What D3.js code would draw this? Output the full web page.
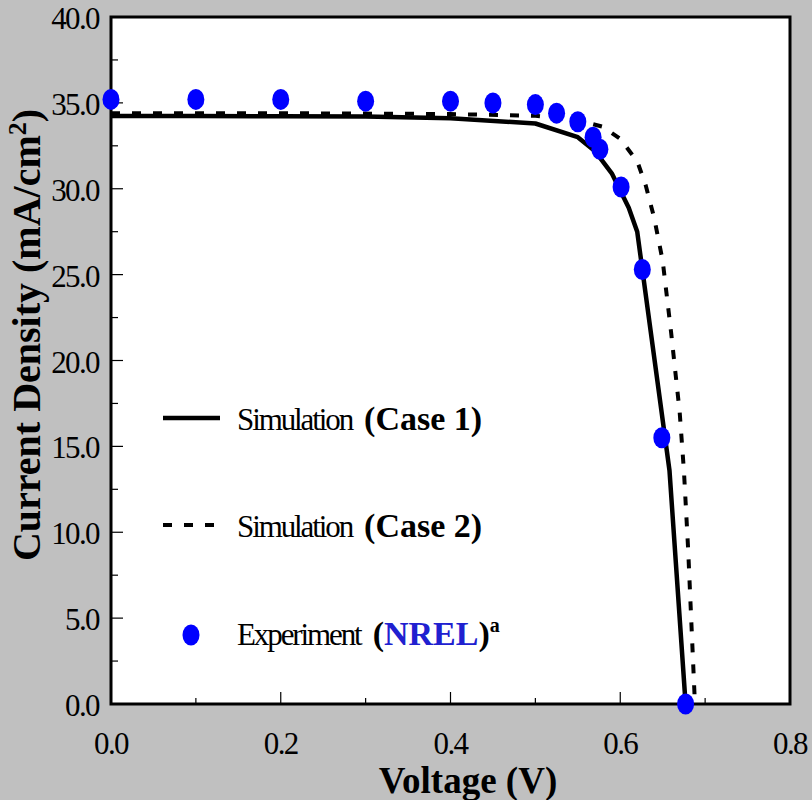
<!DOCTYPE html>
<html>
<head>
<meta charset="utf-8">
<script src="https://cdn.jsdelivr.net/npm/d3@7"></script>
<style>
  html, body { margin: 0; padding: 0; background: #c0c0c0; }
  svg { display: block; font-family: "Liberation Serif", "Times New Roman", serif; }
  .tick-label { font-size: 31px; letter-spacing: -1.6px; fill: #000; }
  .axis-title { font-size: 37px; font-weight: bold; fill: #000; }
  .legend-text { font-size: 31px; fill: #000; }
</style>
</head>
<body>
<svg id="chart" width="812" height="800"></svg>
<script>
// Simulated J-V curves (voltage in V, current density in mA/cm2)
const case1V = [0, 0.1, 0.2, 0.3, 0.4, 0.5, 0.55, 0.57, 0.59, 0.61, 0.62, 0.658, 0.677];
const case1J = [34.24, 34.24, 34.22, 34.2, 34.1, 33.8, 33.0, 32.2, 30.9, 28.9, 27.5, 13.6, 0];

const case2V = [0, 0.2, 0.4, 0.5, 0.55, 0.58, 0.6, 0.62, 0.63, 0.64, 0.65, 0.66, 0.67, 0.675, 0.68, 0.688];
const case2J = [34.4, 34.4, 34.35, 34.25, 34.0, 33.6, 32.9, 31.6, 30.2, 28.3, 25.8, 21.6, 17.0, 13.6, 9.0, 0];

// Experiment (NREL)
const expV = [0, 0.1, 0.2, 0.3, 0.4, 0.45, 0.5, 0.525, 0.55, 0.568, 0.576, 0.601, 0.626, 0.649, 0.677];
const expJ = [35.2, 35.2, 35.2, 35.1, 35.1, 35.0, 34.9, 34.4, 33.9, 33.0, 32.3, 30.1, 25.3, 15.5, 0];

const xTicks = [0, 0.1, 0.2, 0.3, 0.4, 0.5, 0.6, 0.7, 0.8];
const xLabels = [0, 0.2, 0.4, 0.6, 0.8];
const yTicks = d3.range(0, 40.01, 2.5);
const yLabels = [0, 5, 10, 15, 20, 25, 30, 35, 40];

const svg = d3.select("#chart");
const plot = { left: 111, right: 790, top: 17, bottom: 704 };

const x = d3.scaleLinear().domain([0, 0.8]).range([plot.left, plot.right]);
const y = d3.scaleLinear().domain([0, 40]).range([plot.bottom, plot.top]);

const frameLayer = svg.append("g").attr("class", "frame");
const curveLayer = svg.append("g").attr("class", "curves");
const pointLayer = svg.append("g").attr("class", "points");
const legendLayer = svg.append("g").attr("class", "legend");

frameLayer.append("rect")
  .attr("x", plot.left)
  .attr("y", plot.top)
  .attr("width", plot.right - plot.left)
  .attr("height", plot.bottom - plot.top)
  .attr("fill", "#fff")
  .attr("stroke", "#000")
  .attr("stroke-width", 3);

// inward ticks, longer on labelled values
const isMajorX = (d) => xLabels.some((v) => Math.abs(v - d) < 1e-9);
const isMajorY = (d) => yLabels.some((v) => Math.abs(v - d) < 1e-9);

frameLayer.selectAll("line.xtick")
  .data(xTicks.filter((d) => d > 0 && d < 0.8))
  .join("line")
  .attr("class", "xtick")
  .attr("x1", (d) => x(d))
  .attr("x2", (d) => x(d))
  .attr("y1", plot.bottom)
  .attr("y2", (d) => plot.bottom - (isMajorX(d) ? 12 : 6))
  .attr("stroke", "#000")
  .attr("stroke-width", 1.2);

frameLayer.selectAll("line.ytick")
  .data(yTicks.filter((d) => d > 0 && d < 40))
  .join("line")
  .attr("class", "ytick")
  .attr("x1", plot.left)
  .attr("x2", (d) => plot.left + (isMajorY(d) ? 12 : 7))
  .attr("y1", (d) => y(d))
  .attr("y2", (d) => y(d))
  .attr("stroke", "#000")
  .attr("stroke-width", 1.2);

const fmt = d3.format(".1f");

svg.selectAll("text.xlabel")
  .data(xLabels)
  .join("text")
  .attr("class", "tick-label xlabel")
  .attr("x", (d) => x(d))
  .attr("y", 754)
  .attr("text-anchor", "middle")
  .text(fmt);

svg.selectAll("text.ylabel")
  .data(yLabels)
  .join("text")
  .attr("class", "tick-label ylabel")
  .attr("x", plot.left - 12)
  .attr("y", (d) => y(d) + 12)
  .attr("text-anchor", "end")
  .text(fmt);

svg.append("text")
  .attr("class", "axis-title")
  .attr("x", 468)
  .attr("y", 793)
  .attr("text-anchor", "middle")
  .text("Voltage (V)");

const yTitle = svg.append("text")
  .attr("class", "axis-title")
  .style("font-size", "40px")
  .attr("transform", "translate(40,335) rotate(-90)")
  .attr("text-anchor", "middle");
yTitle.append("tspan").text("Current Density (mA/cm");
yTitle.append("tspan").attr("dy", -14).style("font-size", "26px").text("2");
yTitle.append("tspan").attr("dy", 14).text(")");

const line = d3.line()
  .x((d) => x(d[0]))
  .y((d) => y(d[1]));

curveLayer.append("path")
  .attr("d", line(d3.zip(case2V, case2J)))
  .attr("fill", "none")
  .attr("stroke", "#000")
  .attr("stroke-width", 4)
  .attr("stroke-dasharray", "9,12");

curveLayer.append("path")
  .attr("d", line(d3.zip(case1V, case1J)))
  .attr("fill", "none")
  .attr("stroke", "#000")
  .attr("stroke-width", 4.5)
  .attr("stroke-linejoin", "round");

pointLayer.selectAll("ellipse")
  .data(d3.zip(expV, expJ))
  .join("ellipse")
  .attr("cx", (d) => x(d[0]))
  .attr("cy", (d) => y(d[1]))
  .attr("rx", 8.5)
  .attr("ry", 10.5)
  .attr("fill", "#0000ff");

// legend
legendLayer.append("line")
  .attr("x1", 163).attr("x2", 220)
  .attr("y1", 418).attr("y2", 418)
  .attr("stroke", "#000")
  .attr("stroke-width", 4.5);

legendLayer.append("line")
  .attr("x1", 163).attr("x2", 220)
  .attr("y1", 525).attr("y2", 525)
  .attr("stroke", "#000")
  .attr("stroke-width", 4)
  .attr("stroke-dasharray", "9,12");

legendLayer.append("ellipse")
  .attr("cx", 191).attr("cy", 635)
  .attr("rx", 8.5).attr("ry", 10.5)
  .attr("fill", "#0000ff");

function legendEntry(yPos, plain, bold, boldColor, sup) {
  const t = legendLayer.append("text")
    .attr("class", "legend-text")
    .attr("x", 237)
    .attr("y", yPos);
  t.append("tspan").attr("letter-spacing", "-2.1px").text(plain);
  t.append("tspan").attr("dx", 12).style("font-weight", "bold").style("font-size", "34px").text("(");
  t.append("tspan").style("font-weight", "bold").style("font-size", "34px").attr("fill", boldColor).text(bold);
  t.append("tspan").style("font-weight", "bold").style("font-size", "34px").text(")");
  if (sup) {
    t.append("tspan").style("font-weight", "bold").style("font-size", "20px").attr("dy", -13).text(sup);
  }
}

legendEntry(430, "Simulation", "Case 1", "#000", null);
legendEntry(537, "Simulation", "Case 2", "#000", null);
legendEntry(645, "Experiment", "NREL", "#2020d0", "a");
</script>
</body>
</html>
